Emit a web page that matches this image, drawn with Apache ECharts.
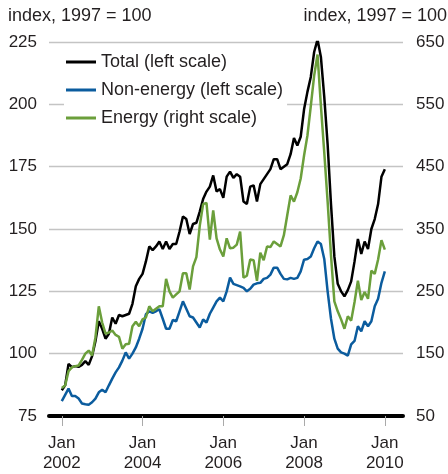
<!DOCTYPE html>
<html>
<head>
<meta charset="utf-8">
<script src="https://cdn.jsdelivr.net/npm/echarts@6/dist/echarts.min.js"></script>
<style>
  html, body { margin: 0; padding: 0; background: #fff; }
  #chart { width: 448px; height: 474px; }
</style>
</head>
<body>
<div id="chart"></div>
<script>
// monthly index values, Jan 2002 .. Jan 2010 (index 0 = Jan 2002)
const totalIdx = [
  85.3, 87.3, 95.9, 94.6, 95, 94.7, 95.5, 97, 95.5, 99,
  105, 113, 110, 106, 108, 114.5, 112, 115.5, 115, 115.5,
  116, 120, 127, 130, 132, 137, 143, 141.5, 143, 145,
  142, 145, 142, 144, 144, 149, 155, 154, 148, 152,
  152.5, 157, 162, 165, 167, 171.5, 165, 166, 162.5, 171,
  173, 170.5, 172, 171, 161, 160, 167, 167.5, 161, 168,
  170, 172, 174, 178, 178, 174, 175, 176, 180, 186.5,
  183.5, 187, 198, 205, 211, 221, 226, 219, 203, 184,
  160, 139, 128, 125, 123, 125.5, 129, 137, 146, 140,
  145, 142, 150, 154, 160, 171, 174
]
const nonEnergyIdx = [
  81, 83.5, 86, 83, 83, 82, 80, 79.7, 79.5, 80.5,
  82, 84.5, 85.5, 84.5, 87.3, 90, 92.5, 94.5, 97.2, 100.5,
  98, 100, 102.5, 106, 110, 115.8, 117, 116.4, 117, 117.8,
  114, 110, 110, 113.5, 113, 117, 121, 118, 115, 114.5,
  112.5, 110.5, 113.7, 112.5, 116, 118.5, 121, 122.5, 121, 125,
  130.5, 128, 127.5, 127, 126.4, 125, 126, 127.7, 128.2, 128.4,
  130, 130.4, 131.7, 134.5, 134.5, 132, 130, 129.8, 130.4, 130,
  130.4, 133, 137.7, 138, 139, 142.3, 145, 144, 138, 125,
  114, 106, 102, 100.5, 100, 99.2, 103.7, 105.1, 111, 109,
  113, 111, 113, 119, 122, 128.4, 133
]
const energyIdx = [
  95, 99, 122, 128, 130, 131, 140, 150, 155, 147,
  176, 226, 200, 182, 184, 187, 180, 177, 158, 165,
  166, 194, 201, 194, 205, 208, 226, 218, 222, 226,
  226, 270, 250, 240, 245, 250, 279, 279, 253, 290,
  305, 355, 390, 392, 333, 380, 335, 317, 306, 335,
  319, 320, 325, 346, 272, 275, 301, 300, 267, 312,
  300, 322, 321, 330, 326, 322, 340, 372, 404, 394,
  409, 431, 468, 500, 547, 596, 630, 548, 473, 394,
  308, 234, 218, 205, 190, 210, 203, 233, 267, 236,
  249, 238, 283, 278, 301, 332, 317
]
const tickMonths = [0, 24, 48, 72, 96]
const tickLabels = ['Jan\n2002', 'Jan\n2004', 'Jan\n2006', 'Jan\n2008', 'Jan\n2010']
const seriesNames = ['Total (left scale)', 'Non-energy (left scale)', 'Energy (right scale)']
const unitLabel = 'index, 1997 = 100'

const textColor = '#231f20'
const fontName = 'Liberation Sans'
const toPoints = arr => arr.map((v, i) => [i, v])

const chart = echarts.init(document.getElementById('chart'))

chart.setOption({
  animation: false,
  textStyle: { fontFamily: fontName },
  title: [
    {
      text: unitLabel, left: 8, top: 7, padding: 0,
      textStyle: { fontSize: 18, fontWeight: 'normal', color: textColor, fontFamily: fontName }
    },
    {
      text: unitLabel, right: 1, top: 7, padding: 0,
      textStyle: { fontSize: 18, fontWeight: 'normal', color: textColor, fontFamily: fontName }
    }
  ],
  grid: { left: 49, right: 45, top: 42, bottom: 58 },
  legend: {
    orient: 'vertical',
    left: 64,
    top: 48,
    padding: [4, 4, 4, 2],
    backgroundColor: '#fff',
    icon: 'rect',
    itemWidth: 30,
    itemHeight: 3,
    itemGap: 8,
    textStyle: { fontSize: 18, color: textColor, fontFamily: fontName, lineHeight: 20 },
    data: seriesNames
  },
  xAxis: {
    type: 'value',
    min: -3.8,
    max: 101.4,
    splitLine: { show: false },
    axisLine: { show: true, onZero: false, lineStyle: { color: '#000', width: 4 } },
    axisTick: { show: true, length: 10, customValues: tickMonths, lineStyle: { color: '#aaa', width: 1 } },
    axisLabel: {
      customValues: tickMonths,
      formatter: v => tickLabels[tickMonths.indexOf(v)],
      margin: 17,
      fontSize: 17,
      lineHeight: 20,
      color: textColor,
      fontFamily: fontName
    }
  },
  yAxis: [
    {
      type: 'value',
      min: 75,
      max: 225,
      interval: 25,
      axisLine: { show: false },
      axisTick: { show: false },
      splitLine: { lineStyle: { color: '#c4c4c4', width: 1.3 } },
      axisLabel: { margin: 12, fontSize: 17, color: textColor, fontFamily: fontName }
    },
    {
      type: 'value',
      position: 'right',
      min: 50,
      max: 650,
      interval: 100,
      axisLine: { show: false },
      axisTick: { show: false },
      splitLine: { show: false },
      axisLabel: { margin: 13, fontSize: 17, color: textColor, fontFamily: fontName }
    }
  ],
  series: [
    {
      name: seriesNames[0], type: 'line', yAxisIndex: 0, showSymbol: false, symbol: 'none',
      color: '#000', lineStyle: { width: 2.5 }, data: toPoints(totalIdx)
    },
    {
      name: seriesNames[1], type: 'line', yAxisIndex: 0, showSymbol: false, symbol: 'none',
      color: '#0b5c9e', lineStyle: { width: 2.5 }, data: toPoints(nonEnergyIdx)
    },
    {
      name: seriesNames[2], type: 'line', yAxisIndex: 1, showSymbol: false, symbol: 'none',
      color: '#6b9f3b', lineStyle: { width: 2.5 }, data: toPoints(energyIdx)
    }
  ]
})
</script>
</body>
</html>
